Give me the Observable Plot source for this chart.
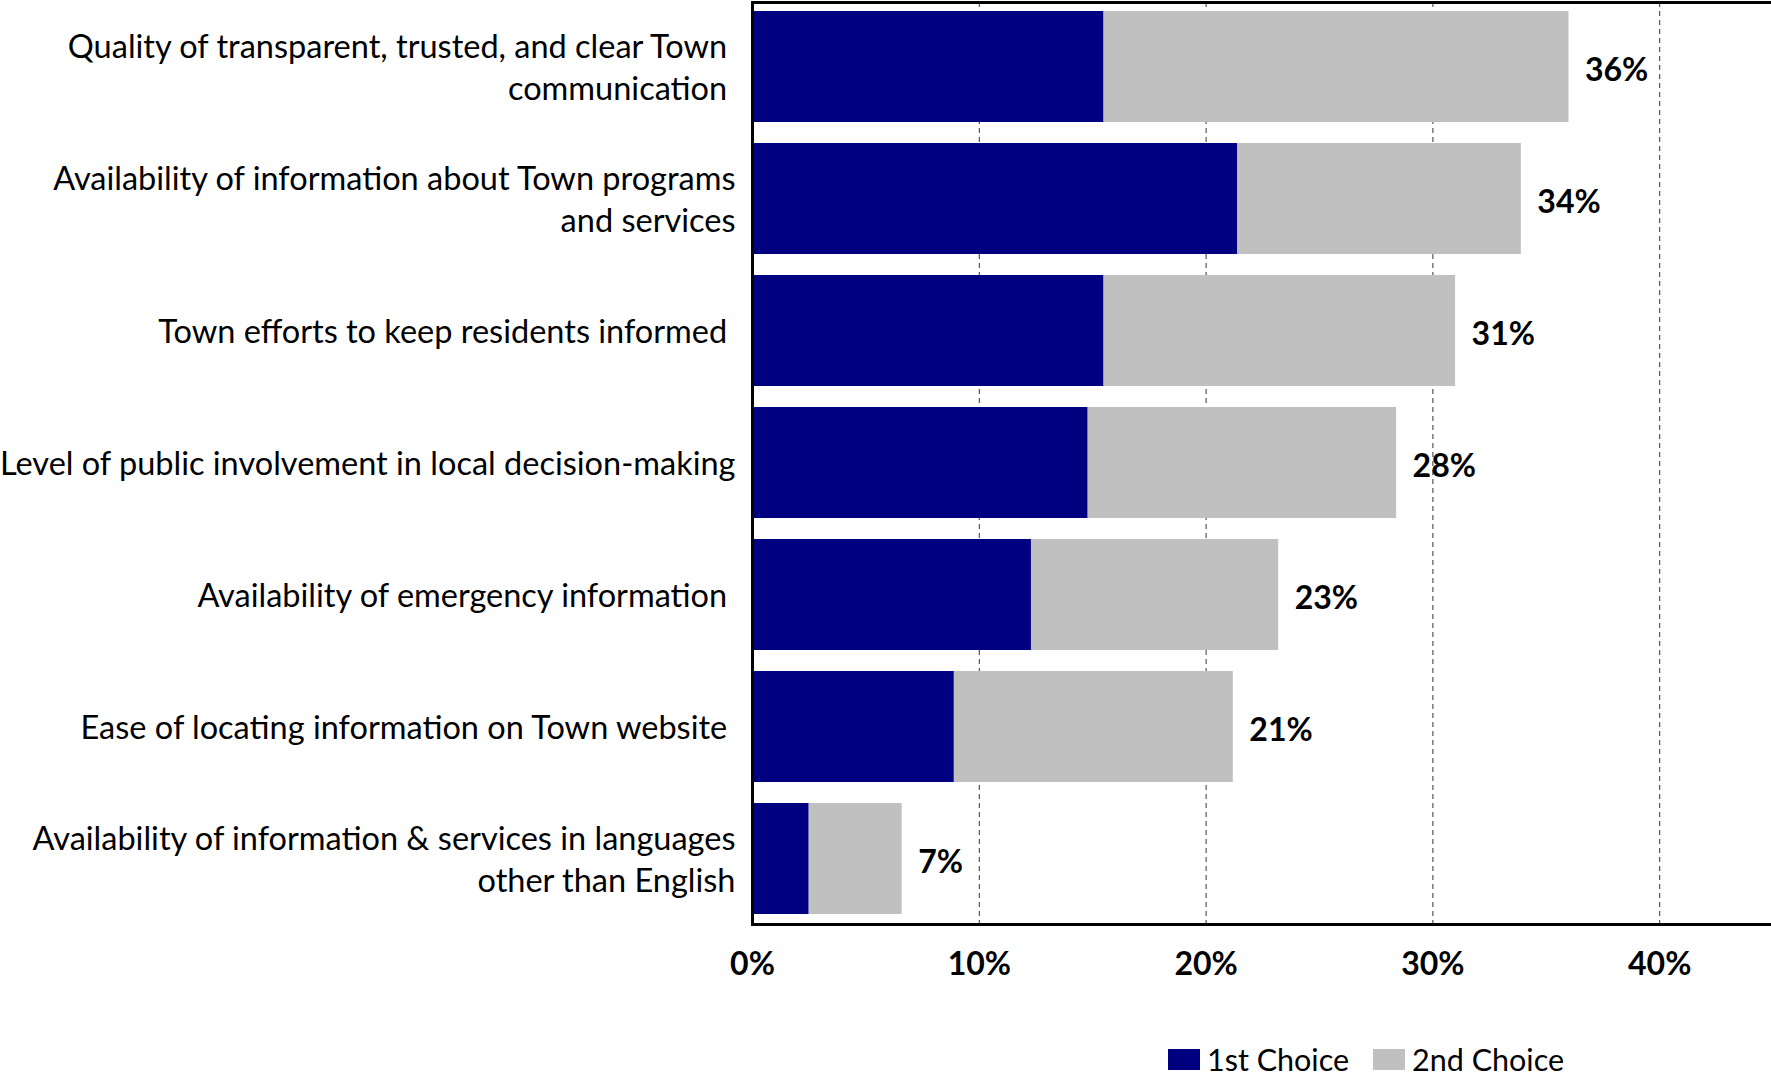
<!DOCTYPE html>
<html>
<head>
<meta charset="utf-8">
<script src="https://cdn.jsdelivr.net/npm/d3@7"></script>
<script src="https://cdn.jsdelivr.net/npm/@observablehq/plot@0.6"></script>
<style>
  html, body { margin: 0; padding: 0; background: #fff; overflow: hidden; width: 1771px; height: 1075px; }
  #chart { position: relative; width: 1771px; height: 1075px; overflow: hidden; }
  .legend { position: absolute; left: 1168px; top: 1041px; display: flex; align-items: center;
            font-family: Lato, "Liberation Sans", sans-serif; font-size: 30.5px; color: #000; white-space: nowrap; }
  .legend .sw { display: inline-block; width: 32px; height: 21px; margin-right: 7px; }
  .legend .item { display: flex; align-items: center; margin-right: 24px; }
</style>
</head>
<body>
<div id="chart"></div>
<script>
// ---- data ----
const categories = [
  "Quality of transparent, trusted, and clear Town\u00a0\ncommunication\u00a0",
  "Availability of information about Town programs\nand services",
  "Town efforts to keep residents informed\u00a0",
  "Level of public involvement in local decision-making",
  "Availability of emergency information\u00a0",
  "Ease of locating information on Town website\u00a0",
  "Availability of information & services in languages\nother than English"
];
const choices = ["1st Choice", "2nd Choice"];
const firstChoice  = [15.5, 21.4, 15.5, 14.8, 12.3, 8.9, 2.5];
const secondChoice = [20.5, 12.5, 15.5, 13.6, 10.9, 12.3, 4.1];
const xTicks = [0, 10, 20, 30, 40];
const gridTicks = [10, 20, 30, 40];
const colors = ["#000080", "#C0C0C0"];

// ---- tables built from the arrays ----
const rows = categories.flatMap((c, i) => [
  {category: c, choice: choices[0], value: firstChoice[i]},
  {category: c, choice: choices[1], value: secondChoice[i]}
]);
const totals = categories.map((c, i) => ({category: c, total: firstChoice[i] + secondChoice[i]}));

const chart = Plot.plot({
  width: 1771,
  height: 1000,
  marginLeft: 752,
  marginRight: -115,
  marginTop: 2,
  marginBottom: 76,
  style: {fontFamily: "Lato, 'Liberation Sans', sans-serif", fontSize: "30px", color: "#000", background: "#fff", overflow: "visible"},
  x: {domain: [0, 50]},
  y: {domain: categories, paddingInner: 0.158, paddingOuter: 0.071},
  color: {domain: choices, range: colors},
  marks: [
    Plot.gridX(gridTicks, {stroke: "#333", strokeOpacity: 1, strokeWidth: 1, strokeDasharray: "5,4"}),
    Plot.barX(rows, {x: "value", y: "category", fill: "choice", order: choices}),
    Plot.text(totals, {x: "total", y: "category", text: d => Math.round(d.total) + "%", dx: 16, dy: 4,
      textAnchor: "start", fontWeight: "bold", fontSize: 32, fill: "#000"}),
    Plot.text(categories, {y: d => d, text: d => d, frameAnchor: "left", dx: -17, dy: -1, textAnchor: "end",
      lineHeight: 1.29, fontSize: 32.5, fill: "#000"}),
    Plot.axisX(xTicks, {tickSize: 0, tickPadding: 28, tickFormat: d => d + "%", fontSize: 32, fontWeight: "bold", label: null}),
    Plot.axisY({ticks: [], label: null, tickSize: 0}),
    Plot.frame({stroke: "#000", strokeWidth: 3})
  ]
});

const container = document.getElementById("chart");
container.appendChild(chart);

const legend = document.createElement("div");
legend.className = "legend";
choices.forEach((c, i) => {
  const item = document.createElement("span");
  item.className = "item";
  const sw = document.createElement("span");
  sw.className = "sw";
  sw.style.background = colors[i];
  const t = document.createElement("span");
  t.textContent = c;
  item.appendChild(sw);
  item.appendChild(t);
  legend.appendChild(item);
});
container.appendChild(legend);
</script>
</body>
</html>
